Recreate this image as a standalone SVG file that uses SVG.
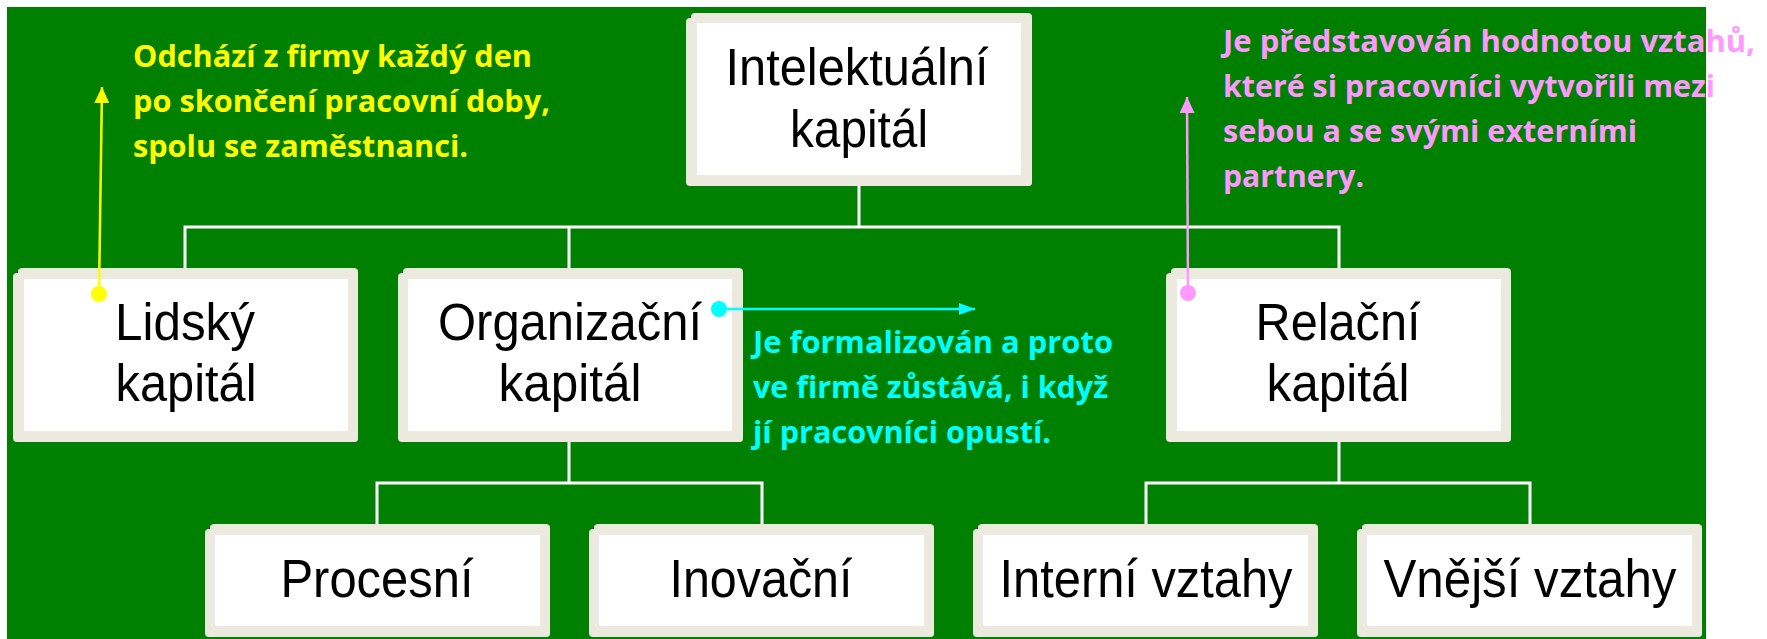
<svg xmlns="http://www.w3.org/2000/svg" width="1767" height="639" viewBox="0 0 1767 639">
<style>
.frame{fill:#ECE9DF}
.inner{fill:#FFFFFF}
.lbl{font-family:"Liberation Sans",Arial,sans-serif;font-size:51px;fill:#000;text-anchor:middle}
.lbl2{font-family:"Liberation Sans",Arial,sans-serif;font-size:53px;fill:#000;text-anchor:middle}
.conn{fill:none;stroke:#FFFFFF;stroke-width:3}
.note{font-family:"Open Sans",Lato,"Liberation Sans",sans-serif;font-weight:bold;font-size:31px}
</style>
<defs>
<marker id="ahY" markerUnits="userSpaceOnUse" markerWidth="16" markerHeight="16" refX="16" refY="8" orient="auto"><path d="M0,0.5 L16,8 L0,15.5 z" fill="#FFFF00"/></marker>
<marker id="ahC" markerUnits="userSpaceOnUse" markerWidth="16" markerHeight="14" refX="16" refY="7" orient="auto"><path d="M0,1 L16,7 L0,13 z" fill="#00FFFF"/></marker>
<marker id="ahP" markerUnits="userSpaceOnUse" markerWidth="16" markerHeight="16" refX="16" refY="8" orient="auto"><path d="M0,0.5 L16,8 L0,15.5 z" fill="#FF99FF"/></marker>
</defs>
<rect x="0" y="0" width="1767" height="639" fill="#FFFFFF"/>
<rect x="7" y="7" width="1699" height="632" fill="#008000"/>

<g id="connectors">
<path class="conn" d="M859 186 V227 M185 268 V227 H1339 V268 M569 227 V268"/>
<path class="conn" d="M569 442 V483 M377 524 V483 H762 V524"/>
<path class="conn" d="M1339 442 V483 M1146 524 V483 H1530 V524"/>
</g>

<g id="node-intelektualni">
<rect class="frame" x="691" y="13" width="341" height="173" rx="4"/>
<rect class="frame" x="686" y="18" width="346" height="168" rx="4"/>
<rect class="inner" x="697" y="23" width="324" height="152"/>
<text class="lbl" x="857" y="85" textLength="263" lengthAdjust="spacingAndGlyphs">Intelektuální</text>
<text class="lbl" x="859" y="147" textLength="138" lengthAdjust="spacingAndGlyphs">kapitál</text>
</g>

<g id="node-lidsky">
<rect class="frame" x="18" y="268" width="340" height="174" rx="4"/>
<rect class="frame" x="13" y="273" width="345" height="169" rx="4"/>
<rect class="inner" x="24" y="279" width="324" height="152"/>
<text class="lbl" x="185" y="340" textLength="140" lengthAdjust="spacingAndGlyphs">Lidský</text>
<text class="lbl" x="186" y="401" textLength="141" lengthAdjust="spacingAndGlyphs">kapitál</text>
</g>

<g id="node-organizacni">
<rect class="frame" x="403" y="268" width="340" height="174" rx="4"/>
<rect class="frame" x="398" y="273" width="345" height="169" rx="4"/>
<rect class="inner" x="408" y="279" width="324" height="152"/>
<text class="lbl" x="570" y="340" textLength="264" lengthAdjust="spacingAndGlyphs">Organizační</text>
<text class="lbl" x="570" y="401" textLength="143" lengthAdjust="spacingAndGlyphs">kapitál</text>
</g>

<g id="node-relacni">
<rect class="frame" x="1171" y="268" width="340" height="174" rx="4"/>
<rect class="frame" x="1166" y="273" width="345" height="169" rx="4"/>
<rect class="inner" x="1177" y="279" width="324" height="152"/>
<text class="lbl" x="1338" y="340" textLength="165" lengthAdjust="spacingAndGlyphs">Relační</text>
<text class="lbl" x="1338" y="401" textLength="143" lengthAdjust="spacingAndGlyphs">kapitál</text>
</g>

<g id="node-procesni">
<rect class="frame" x="210" y="524" width="340" height="113" rx="4"/>
<rect class="frame" x="205" y="529" width="345" height="108" rx="4"/>
<rect class="inner" x="215" y="535" width="325" height="91"/>
<text class="lbl2" x="377" y="597" textLength="193" lengthAdjust="spacingAndGlyphs">Procesní</text>
</g>

<g id="node-inovacni">
<rect class="frame" x="594" y="524" width="340" height="113" rx="4"/>
<rect class="frame" x="589" y="529" width="345" height="108" rx="4"/>
<rect class="inner" x="599" y="535" width="325" height="91"/>
<text class="lbl2" x="761" y="597" textLength="183" lengthAdjust="spacingAndGlyphs">Inovační</text>
</g>

<g id="node-interni">
<rect class="frame" x="978" y="524" width="340" height="113" rx="4"/>
<rect class="frame" x="973" y="529" width="345" height="108" rx="4"/>
<rect class="inner" x="983" y="535" width="325" height="91"/>
<text class="lbl2" x="1146" y="597" textLength="293" lengthAdjust="spacingAndGlyphs">Interní vztahy</text>
</g>

<g id="node-vnejsi">
<rect class="frame" x="1362" y="524" width="340" height="113" rx="4"/>
<rect class="frame" x="1357" y="529" width="345" height="108" rx="4"/>
<rect class="inner" x="1367" y="535" width="325" height="91"/>
<text class="lbl2" x="1530" y="597" textLength="293" lengthAdjust="spacingAndGlyphs">Vnější vztahy</text>
</g>

<g id="note-lidsky">
<line x1="99" y1="294" x2="102" y2="87" stroke="#FFFF00" stroke-width="2.5" marker-end="url(#ahY)"/>
<circle cx="99" cy="294" r="8" fill="#FFFF00"/>
<text class="note" fill="#FFFF00" x="133" y="67" textLength="399" lengthAdjust="spacingAndGlyphs">Odchází z firmy každý den</text>
<text class="note" fill="#FFFF00" x="133" y="112" textLength="417" lengthAdjust="spacingAndGlyphs">po skončení pracovní doby,</text>
<text class="note" fill="#FFFF00" x="133" y="157" textLength="335" lengthAdjust="spacingAndGlyphs">spolu se zaměstnanci.</text>
</g>

<g id="note-organizacni">
<line x1="719" y1="309" x2="975" y2="309" stroke="#00FFFF" stroke-width="2.5" marker-end="url(#ahC)"/>
<circle cx="719" cy="309" r="8" fill="#00FFFF"/>
<text class="note" fill="#00FFFF" x="753" y="353" textLength="360" lengthAdjust="spacingAndGlyphs">Je formalizován a proto</text>
<text class="note" fill="#00FFFF" x="753" y="398" textLength="355" lengthAdjust="spacingAndGlyphs">ve firmě zůstává, i když</text>
<text class="note" fill="#00FFFF" x="753" y="443" textLength="298" lengthAdjust="spacingAndGlyphs">jí pracovníci opustí.</text>
</g>

<g id="note-relacni">
<line x1="1188" y1="293" x2="1187" y2="97" stroke="#FF99FF" stroke-width="2.5" marker-end="url(#ahP)"/>
<circle cx="1188" cy="293" r="8" fill="#FF99FF"/>
<text class="note" fill="#FF99FF" x="1223" y="52" textLength="532" lengthAdjust="spacingAndGlyphs">Je představován hodnotou vztahů,</text>
<text class="note" fill="#FF99FF" x="1223" y="97" textLength="492" lengthAdjust="spacingAndGlyphs">které si pracovníci vytvořili mezi</text>
<text class="note" fill="#FF99FF" x="1223" y="142" textLength="414" lengthAdjust="spacingAndGlyphs">sebou a se svými externími</text>
<text class="note" fill="#FF99FF" x="1223" y="187" textLength="141" lengthAdjust="spacingAndGlyphs">partnery.</text>
</g>
</svg>
